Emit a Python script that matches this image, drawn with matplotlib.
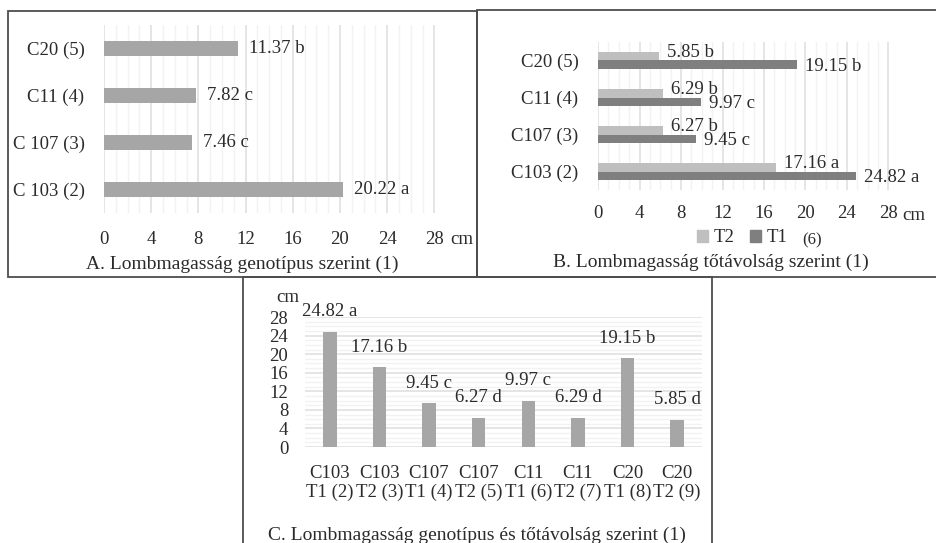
import matplotlib
matplotlib.use("Agg")
import matplotlib.pyplot as plt
from matplotlib.patches import Rectangle, Patch
import numpy as np

# A. panel adatai
genotipus_a = ["C 103 (2)", "C 107 (3)", "C11 (4)", "C20 (5)"]
ertek_a = [20.22, 7.46, 7.82, 11.37]
betu_a = ["a", "c", "c", "b"]

# B. panel adatai
genotipus_b = ["C103 (2)", "C107 (3)", "C11 (4)", "C20 (5)"]
t1_ertek = [24.82, 9.45, 9.97, 19.15]
t1_betu = ["a", "c", "c", "b"]
t2_ertek = [17.16, 6.27, 6.29, 5.85]
t2_betu = ["a", "b", "b", "b"]

# C. panel adatai
kategoria_c = ["C103\nT1 (2)", "C103\nT2 (3)", "C107\nT1 (4)", "C107\nT2 (5)",
               "C11\nT1 (6)", "C11\nT2 (7)", "C20\nT1 (8)", "C20\nT2 (9)"]
ertek_c = [24.82, 17.16, 9.45, 6.27, 9.97, 6.29, 19.15, 5.85]
betu_c = ["a", "b", "c", "d", "c", "d", "b", "d"]

ticks = [0, 4, 8, 12, 16, 20, 24, 28]

W, H = 937, 543
plt.rcParams["font.family"] = ["Liberation Serif", "DejaVu Serif"]
FS = 13.5
TFS = 14
szoveg = "#2b2b2b"

fig = plt.figure(figsize=(W / 100, H / 100), dpi=100)


def hely(l, t, r, b):
  return [l / W, 1 - b / H, (r - l) / W, (b - t) / H]


def keret(l, t, r, b):
  fig.add_artist(Rectangle((l / W, 1 - b / H), (r - l) / W, (b - t) / H,
                           transform=fig.transFigure, fill=False,
                           edgecolor="#4d4d4d", linewidth=1.3))


def alap(ax):
  for s in ax.spines.values():
    s.set_visible(False)
  ax.tick_params(length=0, colors=szoveg, labelsize=FS)


def racs(ax, tengely):
  ax.tick_params(which="minor", length=0)
  ax.grid(axis=tengely, which="minor", color="#f2f2f2", linewidth=1, zorder=0)
  ax.grid(axis=tengely, which="major", color="#e0e0e0", linewidth=1.2, zorder=0)


# ---- A ----
ax = fig.add_axes(hely(104, 25, 104 + 28.6 * 11.8, 213))
alap(ax)
y = np.arange(len(genotipus_a))
ax.barh(y, ertek_a, height=0.33, color="#a6a6a6", zorder=3)
ax.set_xlim(0, 28.6)
ax.set_ylim(-0.5, 3.5)
ax.set_xticks(ticks)
ax.set_xticks(np.arange(0, 29, 1), minor=True)
racs(ax, "x")
ax.set_yticks(y)
ax.set_yticklabels(genotipus_a)
ax.tick_params(axis="y", pad=14)
ax.tick_params(axis="x", pad=13)
for yi, v, b in zip(y, ertek_a, betu_a):
  ax.annotate(f"{v:.2f} {b}", (v, yi), xytext=(11, 0), textcoords="offset pixels",
              va="center", ha="left", color=szoveg, fontsize=FS)
fig.text(462 / W, 1 - 240 / H, "cm", ha="center", va="center", color=szoveg, fontsize=FS)
fig.text(242 / W, 1 - 264 / H, "A. Lombmagasság genotípus szerint (1)",
         ha="center", va="center", color=szoveg, fontsize=TFS)
keret(8, 11, 477, 277)

# ---- B ----
ax = fig.add_axes(hely(598, 42, 598 + 28.8 * 10.375, 190))
alap(ax)
y = np.arange(len(genotipus_b))
h = 0.24
ax.barh(y + h / 2, t2_ertek, height=h, color="#bfbfbf", zorder=3, label="T2")
ax.barh(y - h / 2, t1_ertek, height=h, color="#7f7f7f", zorder=3, label="T1")
ax.set_xlim(0, 28.8)
ax.set_ylim(-0.5, 3.5)
ax.set_xticks(ticks)
ax.set_xticks(np.arange(0, 29, 1), minor=True)
racs(ax, "x")
ax.set_yticks(y)
ax.set_yticklabels(genotipus_b)
ax.tick_params(axis="y", pad=14)
ax.tick_params(axis="x", pad=11)
for yi, v, b in zip(y, t2_ertek, t2_betu):
  ax.annotate(f"{v:.2f} {b}", (v, yi + h / 2), xytext=(8, 4), textcoords="offset pixels",
              va="center", ha="left", color=szoveg, fontsize=FS)
for yi, v, b in zip(y, t1_ertek, t1_betu):
  ax.annotate(f"{v:.2f} {b}", (v, yi - h / 2), xytext=(8, -2), textcoords="offset pixels",
              va="center", ha="left", color=szoveg, fontsize=FS)
fig.text(914 / W, 1 - 215 / H, "cm", ha="center", va="center", color=szoveg, fontsize=FS)
fig.legend(handles=[Patch(color="#bfbfbf", label="T2"), Patch(color="#7f7f7f", label="T1")],
           loc="center", bbox_to_anchor=(742 / W, 1 - 238 / H), ncol=2, frameon=False,
           handlelength=0.6, handleheight=0.6, handletextpad=0.3, columnspacing=0.8,
           fontsize=FS, labelcolor=szoveg)
fig.text(812 / W, 1 - 240 / H, "(6)", ha="center", va="center", color=szoveg, fontsize=12)
fig.text(711 / W, 1 - 262 / H, "B. Lombmagasság tőtávolság szerint (1)",
         ha="center", va="center", color=szoveg, fontsize=TFS)
keret(477, 10, 937, 277)

# ---- C ----
ax = fig.add_axes(hely(305, 317, 702, 447))
alap(ax)
x = np.arange(len(kategoria_c))
ax.bar(x, ertek_c, width=0.27, color="#a6a6a6", zorder=3)
ax.set_xlim(-0.5, 7.5)
ax.set_ylim(0, 28)
ax.set_yticks(ticks)
ax.set_yticks(np.arange(0, 29, 1), minor=True)
racs(ax, "y")
ax.set_xticks(x)
ax.set_xticklabels(kategoria_c, linespacing=1.15)
ax.tick_params(axis="y", pad=12)
ax.tick_params(axis="x", pad=13)
for xi, v, b in zip(x, ertek_c, betu_c):
  ax.annotate(f"{v:.2f} {b}", (xi, v), xytext=(0, 20), textcoords="offset pixels",
              va="center", ha="center", color=szoveg, fontsize=FS)
fig.text(288 / W, 1 - 297 / H, "cm", ha="center", va="center", color=szoveg, fontsize=FS)
fig.text(477 / W, 1 - 535 / H, "C. Lombmagasság genotípus és tőtávolság szerint (1)",
         ha="center", va="center", color=szoveg, fontsize=TFS)
keret(243, 277, 712, 545)

fig.savefig("out.png", dpi=100)
